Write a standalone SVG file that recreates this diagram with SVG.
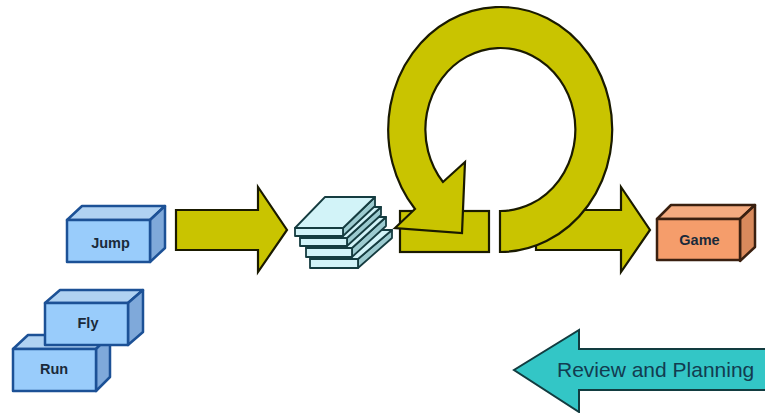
<svg xmlns="http://www.w3.org/2000/svg" width="765" height="413" viewBox="0 0 765 413">
<style>
.y{fill:#c9c400;stroke:#1a1a00;stroke-width:2.2;stroke-linejoin:miter}
.bf{fill:#99ccfb;stroke:#1c5196;stroke-width:2.5;stroke-linejoin:round}
.bt{fill:#b0d2f2;stroke:#1c5196;stroke-width:2.5;stroke-linejoin:round}
.bs{fill:#7fa9da;stroke:#1c5196;stroke-width:2.5;stroke-linejoin:round}
.of{fill:#f59d6b;stroke:#3a2010;stroke-width:2.5;stroke-linejoin:round}
.ot{fill:#f4ab80;stroke:#3a2010;stroke-width:2.5;stroke-linejoin:round}
.os{fill:#d98a5c;stroke:#3a2010;stroke-width:2.5;stroke-linejoin:round}
.sf{fill:#d2f3f8;stroke:#153c40;stroke-width:1.8;stroke-linejoin:round}
.ss{fill:#9ccbd0;stroke:#153c40;stroke-width:1.8;stroke-linejoin:round}
.l{font-family:"Liberation Sans",Arial,sans-serif;font-size:14.5px;font-weight:bold;fill:#1a2a3a;text-anchor:middle}
.r{font-family:"Liberation Sans",Arial,sans-serif;font-size:21px;fill:#123c50}
</style>
<rect width="765" height="413" fill="#fff"/>
<g id="connectors">
<path class="y" d="M176 210H258V187L287 230L258 272V250H176Z"/>
<path class="y" d="M536 250V210H621V187L650 230L621 272V250Z"/>
</g>
<g id="stack">
<path class="ss" d="M358 268L392 238V230L358 259Z"/><path class="sf" d="M310 259H358V268H310Z"/><path class="sf" d="M310 259L344 230H392L358 259Z"/>
<path class="ss" d="M352 257L386 226V217L352 248Z"/><path class="sf" d="M306 248H352V257H306Z"/><path class="sf" d="M306 248L340 217H386L352 248Z"/>
<path class="ss" d="M347 246L381 215V207L347 238Z"/><path class="sf" d="M300 238H347V246H300Z"/><path class="sf" d="M300 238L334 207H381L347 238Z"/>
<path class="ss" d="M343 236L375 206V197L343 228Z"/><path class="sf" d="M295 228H343V236H295Z"/><path class="sf" d="M295 228L325 197H375L343 228Z"/>
</g>
<g id="loop">
<rect class="y" x="400" y="211" width="89" height="41"/>
<path class="y" d="M500 252V211A75 81.5 0 1 0 443 182L465 162L462 233L395 228L415 209A112 122.5 0 1 1 500 252Z"/>
</g>
<g id="jump">
<path class="bt" d="M67 220L82 206H165L150 220Z"/><path class="bs" d="M150 220L165 206V248L150 262Z"/><rect class="bf" x="67" y="220" width="83" height="42"/>
<text class="l" x="110.500" y="248">Jump</text>
</g>
<g id="run">
<path class="bt" d="M13 349L28 335H110L96 349Z"/><path class="bs" d="M96 349L110 335V377L96 391Z"/><rect class="bf" x="13" y="349" width="83" height="42"/>
<text class="l" x="54" y="374">Run</text>
</g>
<g id="fly">
<path class="bt" d="M45 303L60 290H143L128 303Z"/><path class="bs" d="M128 303L143 290V332L128 345Z"/><rect class="bf" x="45" y="303" width="83" height="42"/>
<text class="l" x="88" y="328">Fly</text>
</g>
<g id="game">
<path class="ot" d="M657 219L671 205H755L740 219Z"/><path class="os" d="M740 219L755 205V247L740 261Z"/><rect class="of" x="657" y="219" width="83" height="41"/>
<text class="l" x="699.500" y="245">Game</text>
</g>
<g id="review">
<path d="M766 349H579V330L514 370L579 412V390H766Z" fill="#33c6c6" stroke="#123c40" stroke-width="2"/>
<text class="r" x="557" y="377">Review and Planning</text>
</g>
</svg>
